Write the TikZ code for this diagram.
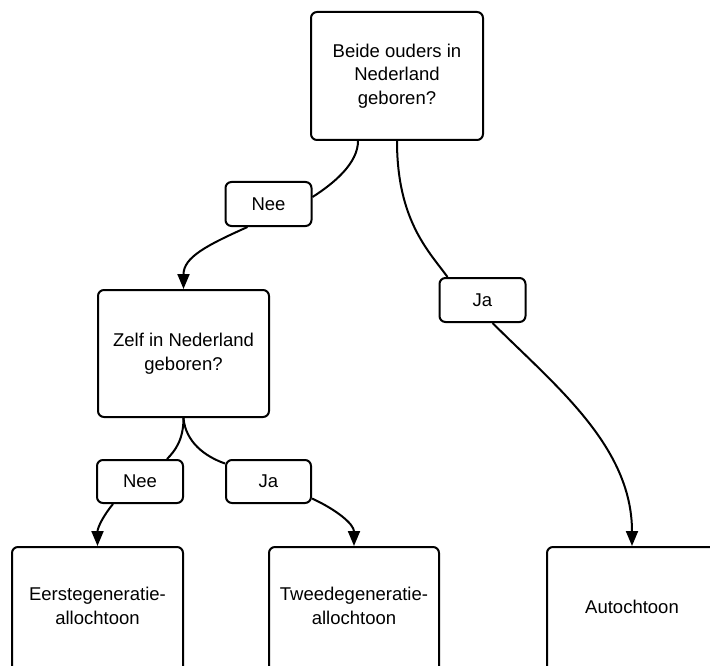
\documentclass[tikz,border=0pt]{standalone}
\usepackage{fontspec}
\setmainfont{Liberation Sans}
\usetikzlibrary{arrows.meta}
\tikzset{
  box/.style={draw=black, line width=2pt, rounded corners=6pt, align=center, inner sep=0pt,
    font=\fontsize{18.5}{23.5}\selectfont},
  lbl/.style={box, minimum width=86pt, minimum height=44pt},
  txt/.style={align=center, inner sep=0pt, font=\fontsize{18.5}{23.5}\selectfont},
  conn/.style={line width=2pt, draw=black},
  arr/.style={conn, -{Triangle[length=15pt,width=12pt]}}
}
\begin{document}
\begin{tikzpicture}[x=1pt,y=-1pt]
\useasboundingbox (0,0) rectangle (710,666);
\clip (0,0) rectangle (710,666);
\node[box, minimum width=172pt, minimum height=128pt] (top) at (397,76) {Beide ouders in\\Nederland\\geboren?};
\node[lbl] (nee) at (268.5,204) {Nee};
\node[lbl] (ja) at (482.5,300) {Ja};
\node[box, minimum width=171pt, minimum height=127pt] (mid) at (183.5,353.5) {Zelf in Nederland\\geboren?};
\node[lbl, minimum height=43pt] (nee2) at (140,481.5) {Nee};
\node[lbl, minimum height=43pt, minimum width=85pt] (ja2) at (268.5,481.5) {Ja};
\node[box, minimum width=171pt, minimum height=150pt] (eg) at (97.5,622) {};
\node[box, minimum width=170pt, minimum height=150pt] (tg) at (354,622) {};
\node[box, minimum width=170pt, minimum height=150pt] (au) at (632,622) {};
\node[txt] (egt) at (97.5,606) {Eerstegeneratie-\\allochtoon};
\node[txt] (tgt) at (354,606) {Tweedegeneratie-\\allochtoon};
\node[txt] (aut) at (632,607) {Autochtoon};
% connectors
\draw[conn] ([xshift=-39pt]top.south) .. controls +(0,22) and +(22,-14) .. ([yshift=7pt]nee.east);
\draw[arr] ([xshift=-21pt]nee.south) .. controls +(-40,18) and +(0,-32) .. (mid.north);
\draw[conn] (top.south) .. controls +(0,80) and +(-18,-25) .. ([xshift=-35pt]ja.north);
\draw[arr] ([xshift=10pt]ja.south) .. controls +(62,62) and +(0,-100) .. (au.north);
\draw[conn] (mid.south) .. controls +(0,22) and +(8,-8) .. ([xshift=27pt]nee2.north);
\draw[conn] (mid.south) .. controls +(2,24) and +(-20,-7) .. ([yshift=18pt]ja2.west);
\draw[arr] ([xshift=-27pt]nee2.south) .. controls +(-10,12) and +(0,-18) .. (eg.north);
\draw[arr] ([yshift=-17pt]ja2.east) .. controls +(24,11) and +(0,-22) .. (tg.north);
\end{tikzpicture}
\end{document}
